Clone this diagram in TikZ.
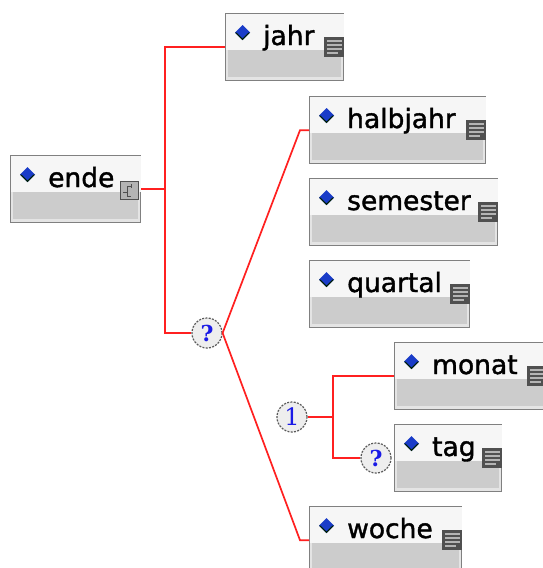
\documentclass[tikz,border=0pt]{standalone}
\usepackage{fontspec}
\newfontfamily\boxfont[FakeBold=1.4]{DejaVu Sans}
\newfontfamily\cardfont{DejaVu Serif}
\definecolor{boxborder}{HTML}{808080}
\definecolor{boxlight}{HTML}{F6F6F6}
\definecolor{boxgap}{HTML}{E4E4E4}
\definecolor{bandgray}{HTML}{CCCCCC}
\definecolor{diamondblue}{HTML}{1A3CC8}
\definecolor{icondark}{HTML}{505050}
\definecolor{iconline}{HTML}{B4B4B4}
\definecolor{cardfill}{HTML}{EEEEEE}
\definecolor{cardblue}{HTML}{1A1AE6}
\definecolor{connred}{HTML}{FF2020}
\tikzset{
  elem/.style={draw=boxborder, line width=1.4pt, fill=boxgap, minimum height=67pt, inner sep=0pt, anchor=north west},
  conn/.style={draw=connred, line width=1.7pt},
  card/.style={circle, draw=black!65, line width=1.2pt, dash pattern=on 2pt off 1.3pt, fill=cardfill, minimum size=30pt, inner sep=0pt, text=cardblue},
  qmark/.style={card, font=\cardfont\fontsize{22}{22}\selectfont\bfseries},
  onemark/.style={card, font=\cardfont\fontsize{24}{24}\selectfont},
  lbl/.style={anchor=base west, inner sep=0pt, font=\boxfont\fontsize{26.5}{26.5}\selectfont},
}
% name, left, top, width, label
\newcommand\elembox[5]{%
  \node[elem, minimum width=#4pt] (#1) at (#2,#3) {};
  \fill[boxlight] ([shift={(0.7pt,-0.7pt)}]#1.north west) rectangle ([shift={(-0.7pt,-37pt)}]#1.north east);
  \fill[bandgray] ([shift={(3pt,-37pt)}]#1.north west) rectangle ([shift={(-3pt,4pt)}]#1.south east);
  \fill[diamondblue] ([shift={(17.5pt,-12pt)}]#1.north west) -- ++(7.5pt,-7.5pt) -- ++(-7.5pt,-7.5pt) -- ++(-7.5pt,7.5pt) -- cycle;
  \fill[black!70!green!40!black] ([shift={(17.5pt,-27pt)}]#1.north west) -- ++(7.5pt,7.5pt) -- ++(-1.5pt,0pt) -- ++(-6pt,-6pt) -- ++(-6pt,6pt) -- ++(-1.5pt,0pt) -- cycle;
  \node[lbl] (#1-t) at ([shift={(38pt,-32pt)}]#1.north west) {#5};
}
\newcommand\docicon[1]{%
  \fill[icondark] ([shift={(-20pt,-24pt)}]#1.north east) rectangle ([shift={(0pt,-44pt)}]#1.north east);
  \foreach \dy/\len in {28/15,32/15,36/15,40/11}{
    \draw[iconline, line width=1.3pt] ([shift={(-17pt,-\dy pt)}]#1.north east) -- ++(\len pt,0pt);
  }
}
\begin{document}
\begin{tikzpicture}[x=1pt,y=-1pt]
\useasboundingbox[fill=white] (0,0) rectangle (542,568);

\elembox{ende}{10}{155}{130}{ende}
\elembox{jahr}{225}{13}{118}{jahr}
\elembox{halbjahr}{309}{96}{176}{halbjahr}
\elembox{semester}{309}{178}{188}{semester}
\elembox{quartal}{309}{260}{160}{quartal}
\elembox{monat}{394}{342}{152}{monat}
\elembox{tag}{394}{424}{107}{tag}
\elembox{woche}{309}{506}{152}{woche}

\docicon{jahr}
\docicon{halbjahr}
\docicon{semester}
\docicon{quartal}
\docicon{monat}
\docicon{tag}
\docicon{woche}

% complex-type icon on ende
\filldraw[fill=iconline, draw=icondark, line width=1pt] (120,181) rectangle (138,199);
\draw[icondark, line width=1pt] (123,192) -- (127,192) (127,186) -- (127,196) (127,186) -- (131,186) (127,196) -- (131,196) (131,184) -- (131,188);

\node[qmark] (q1) at (207,333) {?};
\node[onemark] (c1) at (292,417) {1};
\node[qmark] (q2) at (376,458) {?};

\coordinate (trunk) at (165,190);
\coordinate (trunkb) at (333,417);

\draw[conn] (ende.east) -- (ende.east -| trunk);
\draw[conn] (jahr.west) -| (trunk |- q1.west) -- (q1.west);
\draw[conn] (q1.east) -- ([xshift=-9pt]halbjahr.west) -- (halbjahr.west);
\draw[conn] (q1.east) -- ([xshift=-9pt]woche.west) -- (woche.west);
\draw[conn] (c1.east) -- (c1.east -| trunkb);
\draw[conn] (monat.west) -| (trunkb |- q2.west) -- (q2.west);
\end{tikzpicture}
\end{document}
